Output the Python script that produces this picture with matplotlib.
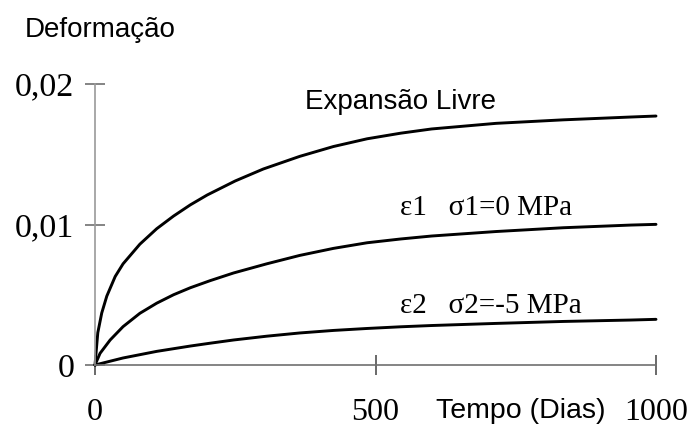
import matplotlib
matplotlib.use("Agg")
import matplotlib.pyplot as plt

# tempo (dias) e deformação
t_livre = [0, 5, 12, 21, 36, 50, 80, 110, 140, 170, 200, 250, 300, 365, 425,
           485, 545, 600, 715, 835, 955, 1000]
e_livre = [0, 0.0023, 0.0037, 0.0049, 0.0063, 0.0072, 0.0086, 0.0097, 0.0106,
           0.0114, 0.0121, 0.0131, 0.01395, 0.01485, 0.01555, 0.0161, 0.0165,
           0.0168, 0.0172, 0.01745, 0.01765, 0.01772]

t_e1 = [0, 9, 27, 50, 80, 110, 140, 170, 205, 247, 306, 365, 425, 485, 545,
        600, 715, 835, 955, 1000]
e_e1 = [0, 0.00083, 0.00178, 0.00273, 0.00368, 0.0044, 0.0050, 0.0055, 0.0060,
        0.00655, 0.0072, 0.0078, 0.0083, 0.0087, 0.00897, 0.00918, 0.0095,
        0.00977, 0.00996, 0.01001]

t_e2 = [0, 50, 110, 170, 205, 247, 306, 365, 425, 485, 545, 600, 715, 835,
        955, 1000]
e_e2 = [0, 0.0005, 0.00097, 0.00135, 0.00155, 0.00178, 0.00205, 0.00228,
        0.00246, 0.0026, 0.00272, 0.00281, 0.00296, 0.0031, 0.0032, 0.00325]

yticks = [0, 0.01, 0.02]
ytick_labels = ["0", "0,01", "0,02"]
xticks = [0, 500, 1000]
xtick_labels = ["0", "500", "1000"]

serif = "Liberation Serif"
sans = "Liberation Sans"

fig = plt.figure(figsize=(6.91, 4.28), dpi=100)
ax = fig.add_axes([95 / 691, 1 - 365 / 428, (656 - 95) / 691, (365 - 84) / 428])

for t, e in [(t_livre, e_livre), (t_e1, e_e1), (t_e2, e_e2)]:
    ax.plot(t, e, color="black", lw=2.1, solid_capstyle="round",
            solid_joinstyle="round", clip_on=False)

ax.set_xlim(0, 1000)
ax.set_ylim(0, 0.02)
for s in ["top", "right"]:
    ax.spines[s].set_visible(False)
ax.spines["left"].set_color("#9a9a9a")
ax.spines["bottom"].set_color("#707070")
ax.spines["left"].set_linewidth(1.2)
ax.spines["bottom"].set_linewidth(1.2)

ax.set_yticks(yticks)
ax.set_yticklabels(ytick_labels, family=serif, fontsize=24.5)
ax.set_xticks(xticks)
ax.set_xticklabels(xtick_labels, family=serif, fontsize=23)
ax.tick_params(axis="y", direction="inout", length=14, width=1.2, color="#707070", pad=8)
ax.tick_params(axis="x", direction="inout", length=14, width=1.2, color="#505050", pad=17)

ax.text(374, 0.01875, "Expansão Livre", family=sans, fontsize=20, va="center")
ax.text(544, 0.01117, "ε1   σ1=0 MPa", family=serif, fontsize=21, va="center")
ax.text(544, 0.0042, "ε2   σ2=-5 MPa", family=serif, fontsize=21, va="center")

fig.text(25 / 691, 1 - 30 / 428, "Deformação", family=sans, fontsize=20, va="center")
fig.text(436 / 691, 1 - 411 / 428, "Tempo (Dias)", family=sans, fontsize=20.5, va="center")

fig.savefig("out.png", dpi=100)
